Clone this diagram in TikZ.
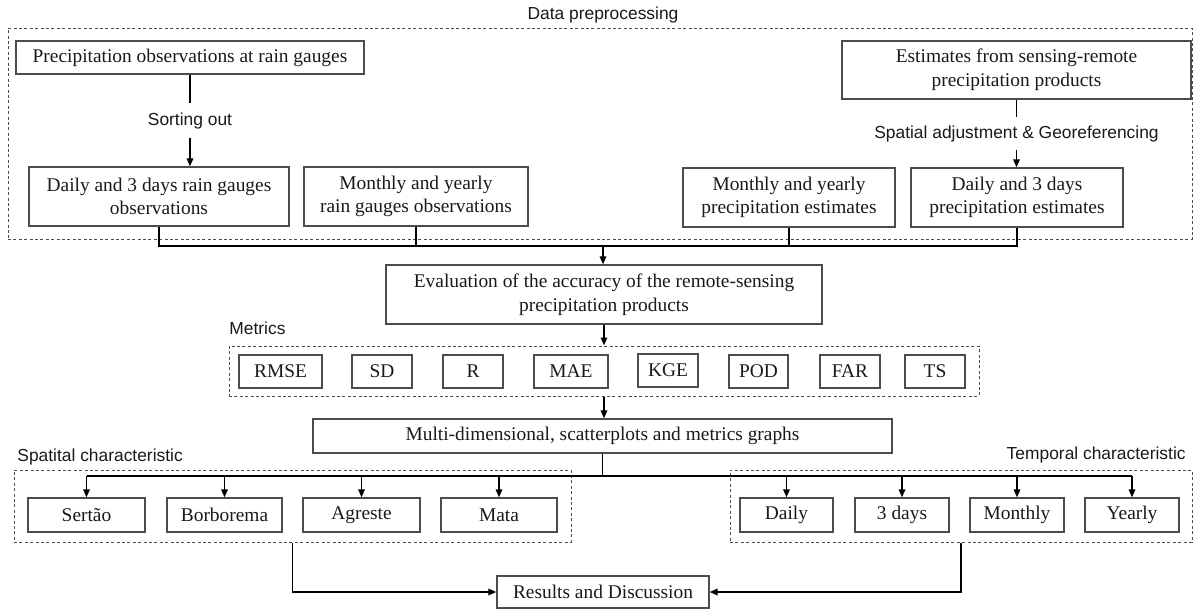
\documentclass[tikz,border=0pt]{standalone}
\usepackage{fontspec}
\setmainfont{Liberation Serif}
\newfontfamily\lblfont{Liberation Sans}
\usetikzlibrary{arrows.meta}

\tikzset{
	box/.style={draw=black!70, line width=0.6pt, align=center, inner sep=1pt,
		font=\fontsize{9.7}{11.8}\selectfont, text=black!90},
	group/.style={draw=black!70, line width=0.5pt, dash pattern=on 1.5pt off 1.2pt, inner sep=0pt},
	lbl/.style={font=\lblfont\fontsize{8.7}{10}\selectfont, inner sep=0pt, text=black!90},
	conn/.style={line width=0.9pt},
	arr/.style={conn, -{Triangle[length=4pt,width=3.2pt]}},
}

\begin{document}
\begin{tikzpicture}[x=0.5pt, y=-0.5pt]
	\useasboundingbox (0,0) rectangle (1193,611);

	% dashed groups
	\node (prep) at (600,133.5) [group, minimum width=592pt, minimum height=105.5pt] {};
	\node (mgrp) at (604,371) [group, minimum width=375pt, minimum height=25pt] {};
	\node (spatial) at (292.5,506) [group, minimum width=278.5pt, minimum height=36pt] {};
	\node (temporal) at (961,506) [group, minimum width=231pt, minimum height=36pt] {};

	\node (preplbl) at (603,15) [lbl] {Data preprocessing};
	\node (mlbl) at (229,328) [lbl, anchor=west] {Metrics};
	\node (slbl) at (17,457) [lbl, anchor=west] {Spatital characteristic};
	\node (tlbl) at (1186,455) [lbl, anchor=east] {Temporal characteristic};

	% data preprocessing
	\node (pobs) at (190,57.5) [box, minimum width=174pt, minimum height=16.5pt] {Precipitation observations at rain gauges};
	\node (sest) at (1016.5,70) [box, minimum width=174.5pt, minimum height=29pt] {Estimates from sensing-remote\\precipitation products};
	\node (drain) at (159,196.5) [box, minimum width=130pt, minimum height=29.5pt] {Daily and 3 days rain gauges\\observations};
	\node (mrain) at (416,196.5) [box, minimum width=112pt, minimum height=29.5pt] {Monthly and yearly\\rain gauges observations};
	\node (mest) at (789,197.5) [box, minimum width=106pt, minimum height=29.5pt] {Monthly and yearly\\precipitation estimates};
	\node (dest) at (1017,197.5) [box, minimum width=106pt, minimum height=29.5pt] {Daily and 3 days\\precipitation estimates};

	\node (eval) at (604,294.5) [box, minimum width=218pt, minimum height=29.5pt] {Evaluation of the accuracy of the remote-sensing\\precipitation products};

	% metrics
	\node (rmse) at (280.5,371.5) [box, minimum width=41.5pt, minimum height=16.5pt] {RMSE};
	\node (sd) at (382,371.5) [box, minimum width=30pt, minimum height=16.5pt] {SD};
	\node (r) at (473,371.5) [box, minimum width=30pt, minimum height=16.5pt] {R};
	\node (mae) at (571,371.5) [box, minimum width=37pt, minimum height=16.5pt] {MAE};
	\node (kge) at (668,370.5) [box, minimum width=30pt, minimum height=16.5pt] {KGE};
	\node (pod) at (758.5,371.5) [box, minimum width=29.5pt, minimum height=16.5pt] {POD};
	\node (far) at (850,371.5) [box, minimum width=30pt, minimum height=16.5pt] {FAR};
	\node (ts) at (935,371.5) [box, minimum width=30pt, minimum height=16.5pt] {TS};

	\node (multi) at (602.5,436) [box, minimum width=289.5pt, minimum height=17pt] {Multi-dimensional, scatterplots and metrics graphs};

	% spatial and temporal
	\node (sertao) at (86.5,515) [box, minimum width=58.5pt, minimum height=17pt] {Sertão};
	\node (borb) at (224.5,515) [box, minimum width=57.5pt, minimum height=17pt] {Borborema};
	\node (agr) at (361.5,515) [box, minimum width=58.5pt, minimum height=17pt] {Agreste};
	\node (mata) at (499,515) [box, minimum width=58pt, minimum height=17pt] {Mata};
	\node (daily) at (786.5,515) [box, minimum width=46.5pt, minimum height=17pt] {Daily};
	\node (three) at (902,515) [box, minimum width=47pt, minimum height=17pt] {3 days};
	\node (month) at (1017,515) [box, minimum width=47pt, minimum height=17pt] {Monthly};
	\node (year) at (1132,515) [box, minimum width=47pt, minimum height=17pt] {Yearly};

	\node (res) at (603,592) [box, minimum width=106pt, minimum height=16pt] {Results and Discussion};

	\coordinate (bus) at (603,246);
	\coordinate (bus2) at (603,476);

	\draw[arr] (pobs.south) -- node[lbl, fill=white, inner ysep=4.6pt] {Sorting out} (pobs.south |- drain.north);
	\draw[arr] (sest.south) -- node[lbl, fill=white, inner ysep=4.3pt] {Spatial adjustment \& Georeferencing} (sest.south |- dest.north);

	\draw[conn] (drain.south) -- (drain.south |- bus) -- (dest.south |- bus) -- (dest.south);
	\draw[conn] (mrain.south) -- (mrain.south |- bus);
	\draw[conn] (mest.south) -- (mest.south |- bus);
	\draw[arr] (bus) -- (bus |- eval.north);
	\draw[arr] (eval.south) -- (mgrp.north);
	\draw[arr] (mgrp.south) -- (mgrp.south |- multi.north);

	\draw[conn] (multi.south) -- (multi.south |- bus2);
	\draw[conn] (sertao.north |- bus2) -- (year.north |- bus2);
	\draw[arr] (sertao.north |- bus2) -- (sertao.north);
	\draw[arr] (borb.north |- bus2) -- (borb.north);
	\draw[arr] (agr.north |- bus2) -- (agr.north);
	\draw[arr] (mata.north |- bus2) -- (mata.north);
	\draw[arr] (daily.north |- bus2) -- (daily.north);
	\draw[arr] (three.north |- bus2) -- (three.north);
	\draw[arr] (month.north |- bus2) -- (month.north);
	\draw[arr] (year.north |- bus2) -- (year.north);

	\draw[arr] (spatial.south) |- (res.west);
	\draw[arr] (temporal.south) |- (res.east);
\end{tikzpicture}
\end{document}
